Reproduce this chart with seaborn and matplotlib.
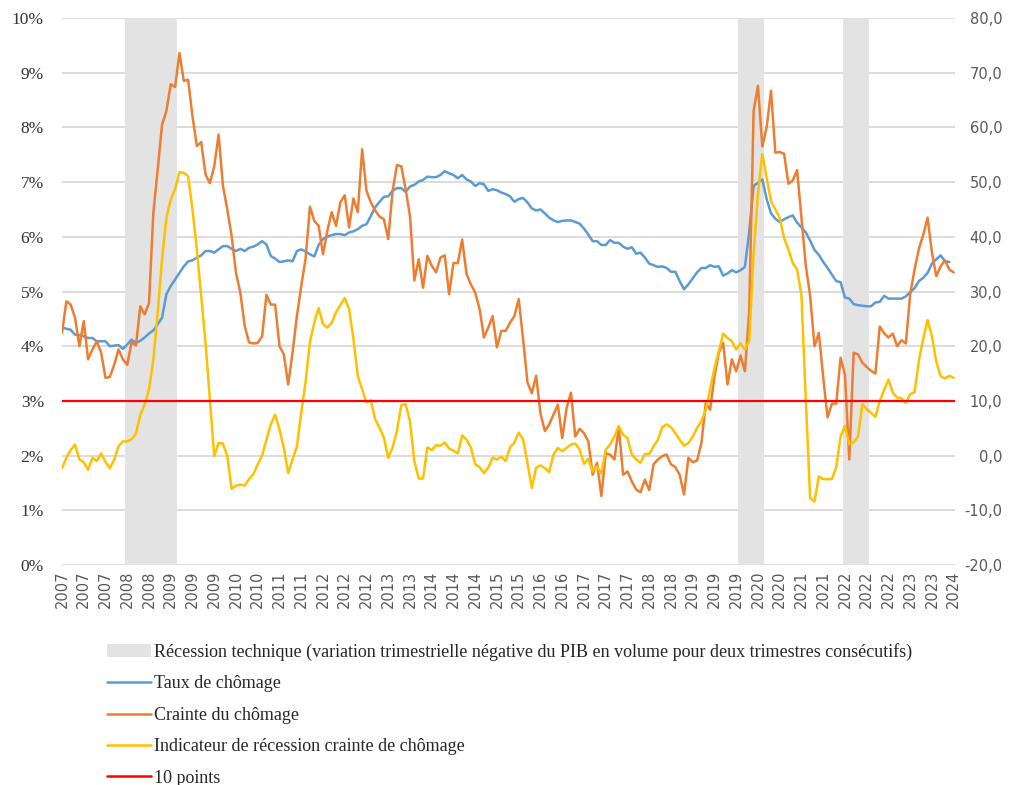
import numpy as np
import pandas as pd
import matplotlib.pyplot as plt
import seaborn as sns
from matplotlib.lines import Line2D
from matplotlib.patches import Patch
from matplotlib.ticker import FuncFormatter

sns.set_theme(style="white")
plt.rcParams['font.family'] = ['Liberation Serif', 'DejaVu Serif']

# monthly data, Jan 2007 -> Feb 2024
mois = pd.date_range("2007-01-01", periods=206, freq="MS")

# taux de chomage (%), left axis - last month not published
taux = [
    4.34, 4.32, 4.30, 4.21, 4.20, 4.18, 4.15, 4.15, 4.09, 4.09,
    4.09, 4.00, 4.01, 4.02, 3.95, 4.03, 4.12, 4.06, 4.10, 4.16,
    4.23, 4.29, 4.40, 4.52, 4.95, 5.10, 5.22, 5.34, 5.46, 5.55,
    5.57, 5.62, 5.66, 5.74, 5.74, 5.71, 5.77, 5.83, 5.83, 5.78,
    5.74, 5.78, 5.74, 5.80, 5.82, 5.86, 5.92, 5.86, 5.65, 5.60,
    5.54, 5.55, 5.57, 5.55, 5.74, 5.77, 5.73, 5.68, 5.64, 5.85,
    5.96, 6.00, 6.03, 6.05, 6.05, 6.03, 6.08, 6.10, 6.14, 6.20,
    6.23, 6.38, 6.54, 6.64, 6.73, 6.74, 6.84, 6.89, 6.89, 6.82,
    6.92, 6.95, 7.01, 7.04, 7.10, 7.09, 7.09, 7.13, 7.20, 7.16,
    7.13, 7.07, 7.13, 7.05, 7.01, 6.93, 6.98, 6.96, 6.84, 6.87,
    6.85, 6.81, 6.78, 6.74, 6.64, 6.69, 6.71, 6.63, 6.52, 6.48,
    6.50, 6.43, 6.35, 6.30, 6.27, 6.29, 6.30, 6.30, 6.27, 6.24,
    6.15, 6.04, 5.92, 5.92, 5.85, 5.85, 5.94, 5.89, 5.89, 5.82,
    5.78, 5.81, 5.69, 5.71, 5.62, 5.51, 5.48, 5.45, 5.46, 5.43,
    5.36, 5.36, 5.19, 5.04, 5.13, 5.24, 5.35, 5.43, 5.43, 5.48,
    5.45, 5.46, 5.29, 5.33, 5.39, 5.35, 5.39, 5.45, 6.10, 6.93,
    6.99, 7.05, 6.69, 6.43, 6.33, 6.27, 6.32, 6.36, 6.39, 6.26,
    6.17, 6.08, 5.93, 5.76, 5.67, 5.54, 5.43, 5.31, 5.19, 5.17,
    4.89, 4.87, 4.77, 4.75, 4.74, 4.73, 4.73, 4.80, 4.81, 4.92,
    4.87, 4.87, 4.87, 4.87, 4.91, 4.99, 5.06, 5.19, 5.25, 5.34,
    5.51, 5.59, 5.66, 5.55, 5.54, np.nan,
]

# crainte du chomage (points), right axis
crainte = [
    22.4, 28.2, 27.6, 25.2, 20.0, 24.6, 17.6, 19.4, 20.9, 18.8,
    14.2, 14.4, 16.6, 19.4, 17.6, 16.6, 20.7, 20.1, 27.3, 25.8,
    27.9, 44.4, 52.3, 60.5, 63.0, 67.9, 67.4, 73.6, 68.5, 68.7,
    62.0, 56.6, 57.3, 51.4, 49.8, 52.9, 58.7, 49.3, 45.0, 40.1,
    33.4, 29.8, 23.7, 20.7, 20.5, 20.6, 21.8, 29.4, 27.6, 27.6,
    20.0, 18.5, 13.0, 18.8, 25.5, 31.0, 36.0, 45.5, 42.9, 42.0,
    36.8, 41.1, 44.5, 42.0, 46.3, 47.6, 41.7, 47.0, 44.5, 56.0,
    48.4, 46.3, 44.8, 43.7, 43.2, 39.6, 48.4, 53.1, 52.9, 48.7,
    43.8, 32.0, 35.9, 30.7, 36.5, 34.7, 33.5, 36.2, 36.6, 29.5,
    35.2, 35.2, 39.5, 33.2, 31.3, 29.8, 26.8, 21.6, 23.4, 25.5,
    19.8, 22.8, 22.8, 24.3, 25.5, 28.6, 21.3, 13.4, 11.4, 14.6,
    7.7, 4.5, 5.7, 7.5, 9.3, 3.2, 8.7, 11.5, 3.5, 4.9,
    4.1, 2.6, -3.5, -1.3, -7.4, 0.4, 0.2, -0.7, 5.1, -3.5,
    -2.9, -4.7, -6.2, -6.7, -4.4, -6.3, -1.6, -0.7, -0.1, 0.2,
    -1.6, -2.1, -3.5, -7.1, -0.4, -1.2, -0.9, 2.3, 9.6, 8.4,
    14.5, 18.8, 20.6, 13.0, 17.6, 15.4, 18.3, 15.4, 26.5, 63.0,
    67.6, 56.5, 60.0, 66.7, 55.4, 55.5, 55.2, 49.7, 50.3, 52.2,
    43.5, 34.7, 29.2, 20.0, 22.4, 14.3, 7.0, 9.5, 9.5, 17.9,
    14.8, -0.7, 18.8, 18.5, 17.0, 16.2, 15.5, 15.0, 23.6, 22.4,
    21.6, 22.3, 20.0, 21.1, 20.5, 29.5, 34.0, 37.8, 40.4, 43.5,
    37.1, 32.8, 34.6, 35.7, 34.0, 33.5,
]

# indicateur de recession crainte de chomage (points), right axis
indicateur = [
    -2.3, -0.4, 1.0, 2.0, -0.7, -1.2, -2.6, -0.4, -1.0, 0.4,
    -1.2, -2.3, -0.7, 1.7, 2.6, 2.6, 3.0, 4.0, 7.5, 9.3,
    12.1, 17.6, 26.1, 35.9, 43.5, 46.8, 48.7, 51.8, 51.7, 51.1,
    45.0, 37.7, 29.1, 20.6, 10.2, -0.1, 2.3, 2.2, -0.1, -6.1,
    -5.5, -5.3, -5.5, -4.3, -3.4, -1.6, 0.0, 2.9, 5.7, 7.5,
    4.8, 1.4, -3.2, -0.7, 1.7, 7.8, 13.5, 20.8, 24.3, 27.0,
    24.0, 23.4, 24.3, 26.2, 27.5, 28.8, 26.8, 21.3, 14.6, 12.1,
    9.7, 10.1, 6.6, 5.1, 3.3, -0.4, 1.5, 4.5, 9.2, 9.4,
    6.3, -1.0, -4.2, -4.2, 1.5, 1.0, 1.9, 1.8, 2.4, 1.3,
    0.9, 0.4, 3.7, 2.9, 1.5, -1.6, -2.1, -3.2, -2.2, -0.4,
    -0.7, -0.2, -1.0, 1.5, 2.4, 4.2, 3.0, -1.3, -5.9, -2.2,
    -1.8, -2.3, -3.0, 0.2, 1.4, 0.8, 1.4, 2.0, 2.2, 1.1,
    -1.5, -0.6, -2.9, -2.0, -3.3, 1.1, 2.0, 3.5, 5.4, 3.8,
    3.2, 0.2, -0.7, -1.3, 0.3, 0.3, 1.7, 2.9, 5.2, 5.7,
    5.2, 4.1, 2.9, 1.8, 2.3, 3.4, 5.1, 6.3, 8.4, 12.1,
    16.0, 19.1, 22.3, 21.5, 20.9, 19.4, 20.5, 19.4, 21.0, 37.0,
    48.0, 55.1, 50.8, 46.5, 45.0, 43.5, 39.8, 37.7, 35.2, 34.0,
    29.3, 10.2, -7.8, -8.4, -3.8, -4.3, -4.3, -4.3, -2.1, 3.5,
    5.4, 2.1, 2.4, 3.5, 9.4, 8.5, 7.8, 7.1, 10.0, 12.0,
    13.9, 11.5, 10.6, 10.5, 9.6, 11.2, 11.6, 17.4, 21.4, 24.8,
    21.8, 17.2, 14.5, 14.1, 14.6, 14.2,
]

seuil = 10  # "10 points"

# recessions techniques (first and last month)
recessions = [("2008-04-01", "2009-03-01"),
              ("2020-01-01", "2020-06-01"),
              ("2022-01-01", "2022-06-01")]

df = pd.DataFrame({
    "mois": np.arange(len(mois)),
    "taux": taux,
    "crainte": crainte,
    "indicateur": indicateur,
})

c_blue = "#5b9bd5"
c_orange = "#ed7d31"
c_yellow = "#ffc000"
c_red = "#ff0000"
c_band = "#e3e3e3"

W, H = 1018, 785
fig = plt.figure(figsize=(W / 100, H / 100), dpi=100)
ax = fig.add_axes([62 / W, 1 - 565 / H, (955 - 62) / W, (565 - 18) / H])
ax2 = ax.twinx()

# shading + grid on the left axis
ax.set_axisbelow(True)
ax.yaxis.grid(True, color="#d9d9d9", lw=1.3)
for d0, d1 in recessions:
    i0 = mois.get_loc(pd.Timestamp(d0))
    i1 = mois.get_loc(pd.Timestamp(d1))
    ax.axvspan(i0 - 0.5, i1 + 0.5, color=c_band, lw=0, zorder=1)

sns.lineplot(data=df, x="mois", y="taux", ax=ax, color=c_blue, lw=1.8, zorder=3)
sns.lineplot(data=df, x="mois", y="crainte", ax=ax2, color=c_orange, lw=1.8, zorder=3)
sns.lineplot(data=df, x="mois", y="indicateur", ax=ax2, color=c_yellow, lw=1.8, zorder=3)
ax2.axhline(seuil, color=c_red, lw=1.6, zorder=4)

ax.set_xlim(0, 205.3)
ax.set_ylim(0, 10)
ax2.set_ylim(-20, 80)
ax.set_yticks(range(0, 11))
ax2.set_yticks(range(-20, 81, 10))
ax.yaxis.set_major_formatter(FuncFormatter(lambda v, p: f"{v:.0f}%"))
ax2.yaxis.set_major_formatter(FuncFormatter(lambda v, p: f"{v:.1f}".replace(".", ",")))

ticks = list(range(0, len(mois), 5))
ax.set_xticks(ticks)
ax.set_xticklabels([str(mois[i].year) for i in ticks], rotation=90,
                   family="DejaVu Sans", fontsize=10.5, color="#595959")

ax.tick_params(axis="y", length=0, pad=13, labelsize=12.5, labelcolor="#333333")
ax.tick_params(axis="x", length=0, pad=4)
ax2.tick_params(axis="y", length=0, pad=34, labelsize=10.5, labelcolor="#595959")
for lbl in ax2.get_yticklabels():
    lbl.set_family("DejaVu Sans")
    lbl.set_horizontalalignment("right")

for a in (ax, ax2):
    a.set_xlabel("")
    a.set_ylabel("")
    for s in a.spines.values():
        s.set_visible(False)

handles = [
    Patch(facecolor=c_band, edgecolor="none"),
    Line2D([], [], color=c_blue, lw=1.8),
    Line2D([], [], color=c_orange, lw=1.8),
    Line2D([], [], color=c_yellow, lw=1.8),
    Line2D([], [], color=c_red, lw=1.8),
]
labels = [
    "Récession technique (variation trimestrielle négative du PIB en volume pour deux trimestres consécutifs)",
    "Taux de chômage",
    "Crainte du chômage",
    "Indicateur de récession crainte de chômage",
    "10 points",
]
leg = fig.legend(handles, labels, loc="upper left", bbox_to_anchor=(107 / W, 1 - 643 / H),
                 frameon=False, fontsize=13, handlelength=2.45, handletextpad=0.15,
                 labelspacing=0.8, borderaxespad=0, borderpad=0)
for t in leg.get_texts():
    t.set_color("#262626")

fig.savefig("out.png", dpi=100)
